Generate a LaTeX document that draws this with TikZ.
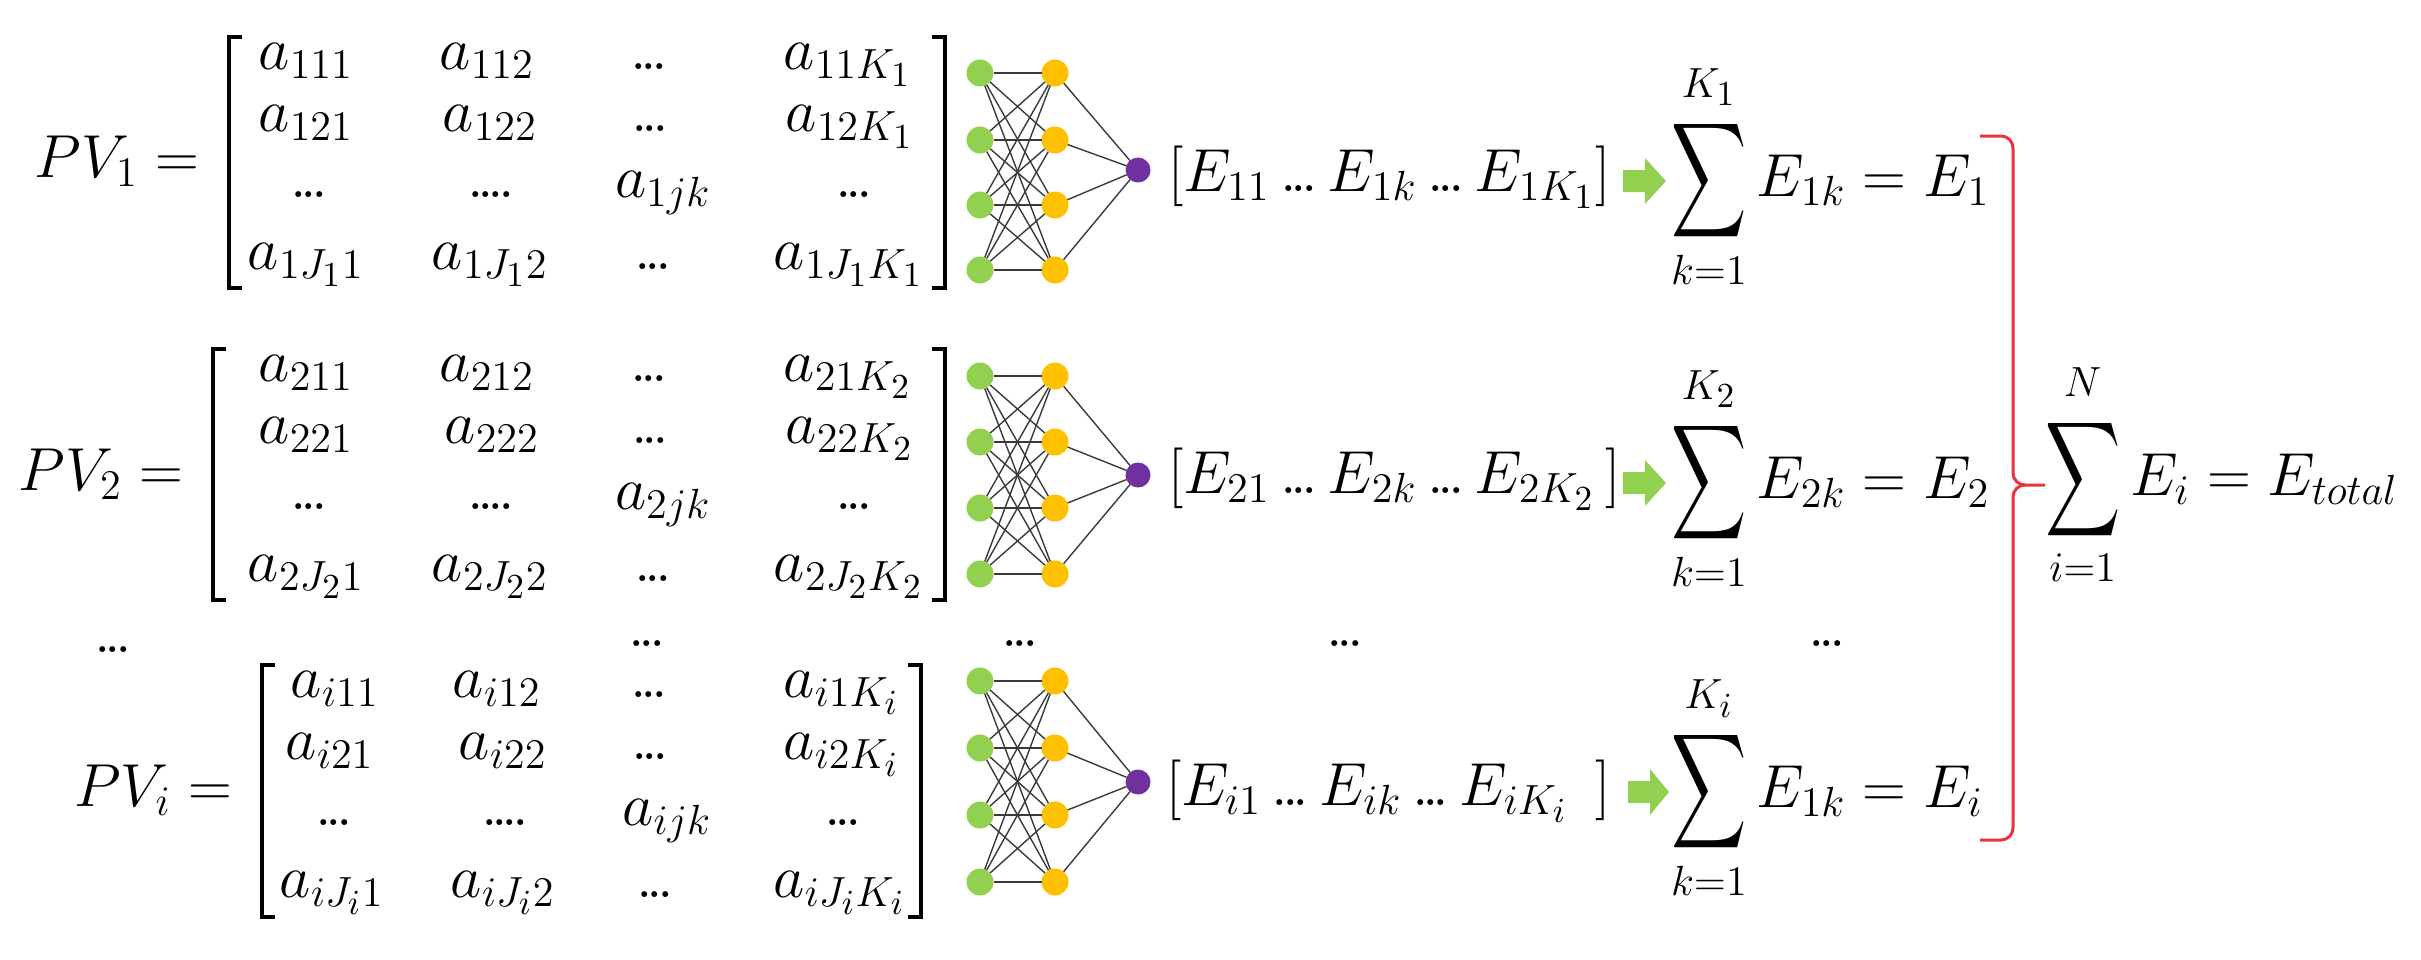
\documentclass[tikz,border=0pt]{standalone}
\usepackage{amsmath}
\usepackage{graphicx}
\definecolor{nngreen}{HTML}{92D050}
\definecolor{nnorange}{HTML}{FFC000}
\definecolor{nnpurple}{HTML}{7030A0}
\definecolor{bracered}{HTML}{E8343F}
\definecolor{edgegray}{HTML}{3A3A3A}
\newcommand\hdd{\mathord{\mathbf{.\kern-0.1em.\kern-0.1em.}}}
\newcommand\hdddd{\mathord{\mathbf{.\kern-0.1em.\kern-0.1em.\kern-0.1em.}}}
\newcommand\bsum{\mathop{\vcenter{\hbox{\scalebox{0.86}[1.32]{$\displaystyle\sum$}}}}\limits}
\newcommand\up[1]{\raisebox{2pt}{$\scriptstyle #1$}}
\newcommand\lbrk[3]{\draw[mbrack] (#1+13,#2) -- (#1,#2) -- (#1,#3) -- (#1+13,#3);}
\newcommand\rbrk[3]{\draw[mbrack] (#1-13,#2) -- (#1,#2) -- (#1,#3) -- (#1-13,#3);}
\newcommand\nnet[6]{%
  \foreach \j/\yy in {1/#2,2/#3,3/#4,4/#5}{%
    \node[gdot] (#1g\j) at (980,\yy) {};
    \node[odot] (#1o\j) at (1055,\yy) {};
  }
  \node[pdot] (#1p) at (1138,#6) {};
  \foreach \a in {1,...,4}{%
    \foreach \b in {1,...,4}{\draw[nnedge] (#1g\a) -- (#1o\b);}
    \draw[nnedge] (#1o\a) -- (#1p);
  }
}
\newcommand\garrow[3]{% x0 x1 centre y
  \fill[nngreen] (#1,#3-11) -- (#1+22,#3-11) -- (#1+22,#3-23) -- (#2,#3)
     -- (#1+22,#3+23) -- (#1+22,#3+11) -- (#1,#3+11) -- cycle;}
\begin{document}
\begin{tikzpicture}[x=0.1mm,y=-0.1mm,
  every node/.style={inner sep=0pt,outer sep=0pt,font=\fontsize{17.28}{20}\selectfont},
  ent/.style={anchor=base},
  lbl/.style={anchor=base east},
  vec/.style={anchor=base west},
  gdot/.style={circle,fill=nngreen,minimum size=2.7mm},
  odot/.style={circle,fill=nnorange,minimum size=2.7mm},
  pdot/.style={circle,fill=nnpurple,minimum size=2.5mm},
  nnedge/.style={draw=edgegray,line width=0.14mm},
  mbrack/.style={draw=black,line width=0.4mm,line join=miter},
  bracestyle/.style={draw=bracered,line width=0.3mm}]
\useasboundingbox (0,0) rectangle (2421,960);

% ---------- row 1 ----------
\node[lbl] (pv1) at (199,177) {$PV_1 =$};
\lbrk{229}{37}{288}
\rbrk{945}{37}{288}
\node[ent] (m1a) at (306,69) {$a_{111}$};
\node[ent] (m1b) at (487,69) {$a_{112}$};
\node[ent] (m1c) at (649,69) {$\hdd$};
\node[ent] (m1d) at (848,69) {$a_{11K_1}$};
\node[ent] (m1e) at (306,131) {$a_{121}$};
\node[ent] (m1f) at (490,131) {$a_{122}$};
\node[ent] (m1g) at (650,131) {$\hdd$};
\node[ent] (m1h) at (850,131) {$a_{12K_1}$};
\node[ent] (m1i) at (309,197) {$\hdd$};
\node[ent] (m1j) at (491,197) {$\hdddd$};
\node[ent] (m1k) at (663,197) {$a_{1jk}$};
\node[ent] (m1l) at (854,197) {$\hdd$};
\node[ent] (m1m) at (306,269) {$a_{1J_11}$};
\node[ent] (m1n) at (490,269) {$a_{1J_12}$};
\node[ent] (m1o) at (653,269) {$\hdd$};
\node[ent] (m1p) at (849,269) {$a_{1J_1K_1}$};
\nnet{A}{73}{140}{205}{270}{170}
\node[vec] (e1) at (1168,191) {$[E_{11}\,\hdd\,E_{1k}\,\hdd\,E_{1K_1}]$};
\garrow{1623}{1666}{181}
\node[vec] (s1) at (1671,196) {$\displaystyle\bsum_{k=1}^{\up{K_1}} E_{1k} = E_1$};

% ---------- row 2 ----------
\node[lbl] (pv2) at (183,490) {$PV_2 =$};
\lbrk{213}{349}{600}
\rbrk{945}{349}{600}
\node[ent] (m2a) at (306,381) {$a_{211}$};
\node[ent] (m2b) at (487,381) {$a_{212}$};
\node[ent] (m2c) at (649,381) {$\hdd$};
\node[ent] (m2d) at (848,381) {$a_{21K_2}$};
\node[ent] (m2e) at (306,443) {$a_{221}$};
\node[ent] (m2f) at (492,443) {$a_{222}$};
\node[ent] (m2g) at (650,443) {$\hdd$};
\node[ent] (m2h) at (850,443) {$a_{22K_2}$};
\node[ent] (m2i) at (309,509) {$\hdd$};
\node[ent] (m2j) at (491,509) {$\hdddd$};
\node[ent] (m2k) at (663,509) {$a_{2jk}$};
\node[ent] (m2l) at (854,509) {$\hdd$};
\node[ent] (m2m) at (306,581) {$a_{2J_21}$};
\node[ent] (m2n) at (490,581) {$a_{2J_22}$};
\node[ent] (m2o) at (653,581) {$\hdd$};
\node[ent] (m2p) at (849,581) {$a_{2J_2K_2}$};
\nnet{B}{376}{442}{508}{574}{475}
\node[vec] (e2) at (1168,493) {$[E_{21}\,\hdd\,E_{2k}\,\hdd\,E_{2K_2}\,]$};
\garrow{1623}{1666}{483}
\node[vec] (s2) at (1671,498) {$\displaystyle\bsum_{k=1}^{\up{K_2}} E_{2k} = E_2$};

% ---------- dots row ----------
\node[ent] (d1) at (113,652) {$\hdd$};
\node[ent] (d2) at (647,646) {$\hdd$};
\node[ent] (d3) at (1020,646) {$\hdd$};
\node[ent] (d4) at (1345,646) {$\hdd$};
\node[ent] (d5) at (1827,646) {$\hdd$};

% ---------- row 3 ----------
\node[lbl] (pv3) at (232,806) {$PV_i =$};
\lbrk{262}{665}{917}
\rbrk{921}{665}{917}
\node[ent] (m3a) at (335,697) {$a_{i11}$};
\node[ent] (m3b) at (497,697) {$a_{i12}$};
\node[ent] (m3c) at (649,697) {$\hdd$};
\node[ent] (m3d) at (842,697) {$a_{i1K_i}$};
\node[ent] (m3e) at (330,759) {$a_{i21}$};
\node[ent] (m3f) at (503,759) {$a_{i22}$};
\node[ent] (m3g) at (650,759) {$\hdd$};
\node[ent] (m3h) at (842,759) {$a_{i2K_i}$};
\node[ent] (m3i) at (334,825) {$\hdd$};
\node[ent] (m3j) at (505,825) {$\hdddd$};
\node[ent] (m3k) at (667,825) {$a_{ijk}$};
\node[ent] (m3l) at (843,825) {$\hdd$};
\node[ent] (m3m) at (332,897) {$a_{iJ_i1}$};
\node[ent] (m3n) at (503,897) {$a_{iJ_i2}$};
\node[ent] (m3o) at (655,897) {$\hdd$};
\node[ent] (m3p) at (840,897) {$a_{iJ_iK_i}$};
\nnet{C}{681}{748}{815}{882}{782}
\node[vec] (e3) at (1166,805) {$[E_{i1}\,\hdd\,E_{ik}\,\hdd\,E_{iK_i}\;\,]$};
\garrow{1628}{1669}{792}
\node[vec] (s3) at (1671,807) {$\displaystyle\bsum_{k=1}^{\up{K_i}} E_{1k} = E_i$};

% ---------- brace and total ----------
\draw[bracestyle] (1980,136) -- (2001,136) to[out=0,in=90] (2013,148) -- (2013,473)
   to[out=-90,in=180] (2025,485) -- (2045,485);
\draw[bracestyle] (2025,485) to[out=180,in=90] (2013,497) -- (2013,828)
   to[out=-90,in=0] (2001,840) -- (1980,840);
\node[vec] (tot) at (2045,495) {$\displaystyle\bsum_{i=1}^{\up{N}} E_i = E_{total}$};
\end{tikzpicture}
\end{document}
